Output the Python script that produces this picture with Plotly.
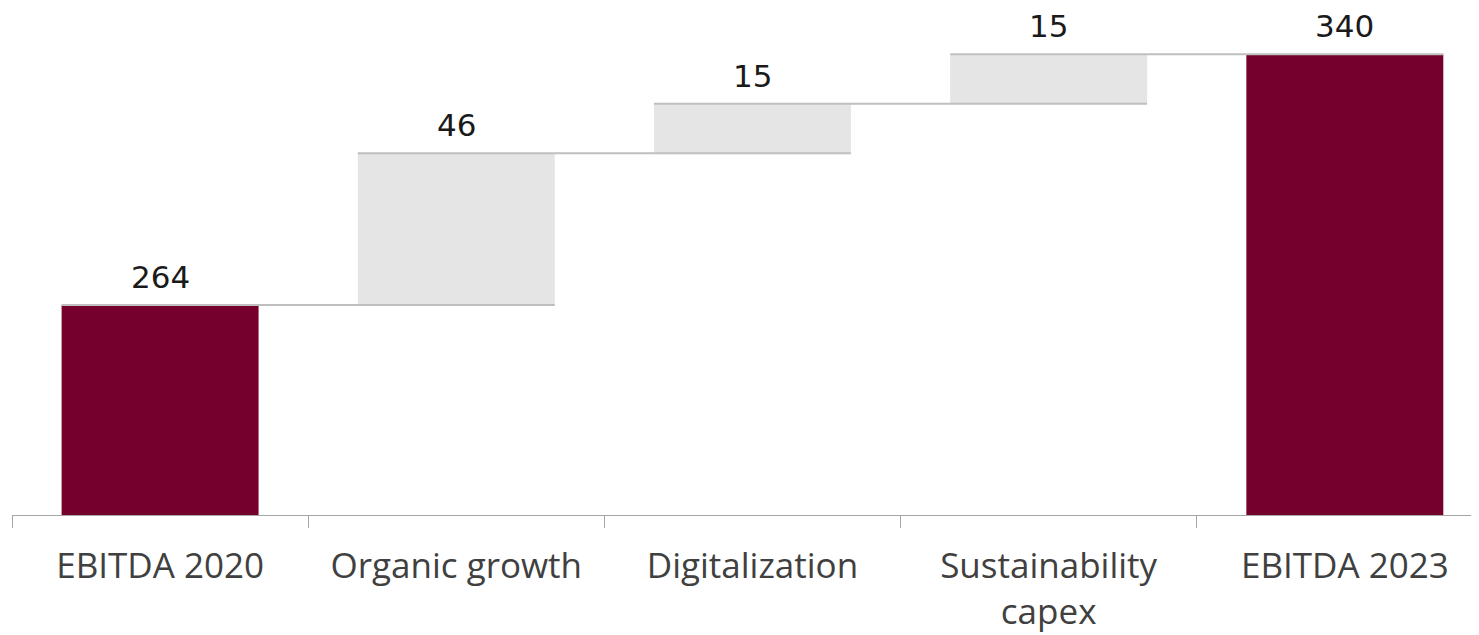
import plotly.graph_objects as go

categories = ["EBITDA 2020", "Organic growth", "Digitalization", "Sustainability<br>capex", "EBITDA 2023"]
measures = ["absolute", "relative", "relative", "relative", "total"]
values = [264, 46, 15, 15, 340]
labels = ["264", "46", "15", "15", "340"]

RED = "#76002d"
GREY_BAR = "#e5e5e5"
CONN = "#bfbfbf"
BAR_W = 0.665
CAT_FONT = "Open Sans"
VAL_FONT = "DejaVu Sans"

fig = go.Figure(go.Waterfall(
    x=categories,
    y=[v if m != "total" else 0 for v, m in zip(values, measures)],
    measure=measures,
    width=BAR_W,
    increasing=dict(marker=dict(color=GREY_BAR)),
    decreasing=dict(marker=dict(color=GREY_BAR)),
    totals=dict(marker=dict(color=RED)),
    connector=dict(visible=False),
    textinfo="none",
    hoverinfo="skip",
))

# cumulative tops from the data
tops = []
running = 0
for v, m in zip(values, measures):
    if m == "absolute":
        running = v
    elif m == "relative":
        running += v
    tops.append(running)

half = BAR_W / 2
shapes = []
for i in range(len(categories) - 1):
    shapes.append(dict(type="line", xref="x", yref="y",
                       x0=i - half, x1=i + 1 + half, y0=tops[i], y1=tops[i],
                       line=dict(color=CONN, width=2), layer="above"))
fig.update_layout(shapes=shapes)

for i, (t, lab) in enumerate(zip(tops, labels)):
    fig.add_annotation(x=i, y=t, xref="x", yref="y", text=lab, showarrow=False,
                       yanchor="bottom", yshift=9, borderpad=0,
                       font=dict(family=VAL_FONT, size=31, color="#1a1a1a"))

fig.update_layout(
    width=1479, height=627,
    margin=dict(l=4, r=0, t=0, b=120, autoexpand=False),
    paper_bgcolor="white", plot_bgcolor="white",
    showlegend=False,
    font=dict(family=CAT_FONT, size=35, color="#404040"),
    xaxis=dict(type="category", range=[-0.5, 4.48], tickson="boundaries",
               ticks="outside", ticklen=12, tickcolor="#a6a6a6", tickwidth=1,
               showline=True, linecolor="#a6a6a6", linewidth=1,
               showgrid=False, zeroline=False, automargin=False,
               ticklabelstandoff=20,
               tickfont=dict(family=CAT_FONT, size=35, color="#404040")),
    yaxis=dict(range=[200.4, 354.0], visible=False, showgrid=False, zeroline=False,
               automargin=False),
)

fig.write_html("out.html")
